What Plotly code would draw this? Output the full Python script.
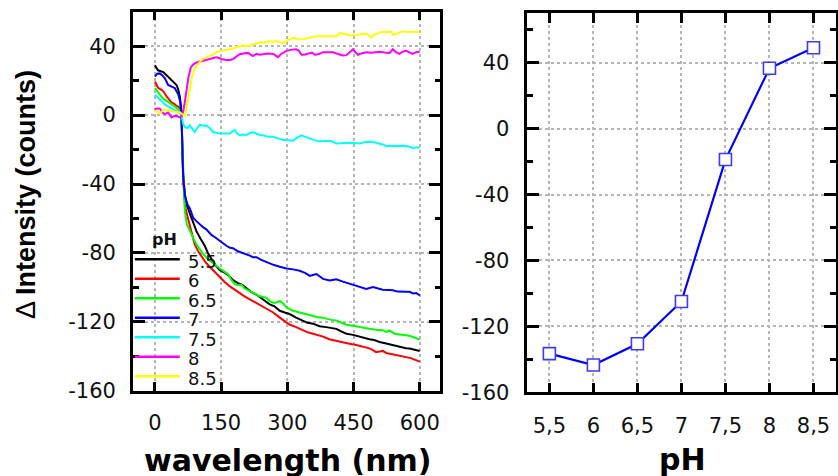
import plotly.graph_objects as go

# ---------------- data ----------------
ph_labels = ["5.5", "6", "6.5", "7", "7.5", "8", "8.5"]
colors = ["#000000", "#ff0000", "#00ff00", "#0000ff", "#00ffff", "#ff00ff", "#ffff00"]

x_55 = [0, 7, 19, 34, 49, 53, 57, 60, 64, 68, 72, 79, 87, 94, 104, 113, 120, 128, 137, 147, 156, 166, 176, 188, 198, 207, 218, 230, 241, 252, 260, 271, 283, 294, 305, 320, 335, 346, 358, 373, 388, 400, 411, 422, 434, 449, 464, 475, 486, 497, 509, 524, 539, 550, 561, 569, 577, 588, 600]
y_55 = [28.9, 26, 25, 21.3, 17.5, 14.7, 10, 2, -35, -46, -52, -57, -63, -67.3, -72, -75.8, -80, -83.3, -87, -90, -91, -92.8, -95.5, -97.5, -98.5, -100.3, -102.5, -104.1, -106, -107.9, -109.8, -111, -113.5, -114.5, -115.4, -117.5, -119.2, -120.5, -121, -122.5, -123, -123.5, -124, -125.5, -126.8, -127.5, -128.7, -129.5, -130, -130.5, -131.6, -132.5, -133.5, -134.3, -135, -135.2, -135.4, -136.2, -136.9]

x_6 = [0, 4, 7.5, 15, 20, 26, 32, 38, 44, 49, 56, 60, 64, 68, 72, 79, 85, 90, 98, 106, 115, 124, 135, 147, 158, 170, 181, 192, 203, 215, 226, 237, 252, 268, 283, 298, 305, 320, 335, 346, 358, 370, 381, 395, 411, 425, 441, 456, 471, 486, 495, 501, 509, 516, 524, 539, 550, 561, 569, 580, 590, 600]
y_6 = [19.5, 17, 15.7, 14.7, 13.5, 11, 9, 7.2, 6.5, 5.3, 4.4, 1, -38, -52.2, -57, -63.5, -70, -74.9, -79, -82.4, -85.5, -88, -91, -93.7, -96.8, -99.4, -101.5, -103.1, -105.2, -106.9, -108.5, -109.7, -112, -114.5, -117.5, -120.1, -121.5, -123, -125, -126, -126.8, -127.5, -128.5, -130, -131, -132, -132.6, -133.4, -134.3, -135.3, -136.5, -137.5, -137.2, -136.8, -138, -138.8, -139.5, -140.4, -140.4, -141, -142, -143]

x_65 = [0, 6, 11, 17, 22.6, 30, 38, 45, 53, 57, 60, 64, 66, 68, 72, 79, 87, 94, 101, 109, 118, 128, 137, 147, 156, 166, 173, 181, 188, 196, 203, 215, 226, 237, 245, 252, 260, 268, 275, 283, 290, 298, 313, 328, 343, 356, 369, 380, 388, 400, 411, 422, 434, 449, 464, 475, 486, 501, 516, 524, 531, 543, 554, 561, 570, 577, 588, 600]
y_65 = [15.7, 13.5, 11.9, 10, 9, 7.5, 6.2, 5, 3.4, 2, 0.5, -30, -46, -56, -63, -67.3, -71.5, -74.9, -77.5, -80.5, -83, -85.2, -87, -89, -90.5, -92.5, -95.5, -98, -98.6, -98.4, -100.5, -102.2, -103.5, -105, -105.5, -105.9, -107.9, -108.8, -108.8, -107.8, -109.2, -111.5, -113.5, -114.5, -115.4, -116, -117.3, -117.5, -118.2, -118.8, -119.2, -120.5, -121.6, -122.2, -123, -123.5, -124, -124.5, -124.8, -125.8, -124.9, -126.8, -127.2, -127.7, -127.6, -128, -129, -130.3]

x_7 = [0, 5, 11, 17, 22.6, 30, 38, 45, 53, 57, 60, 64, 68, 74, 79, 87, 94, 102, 109, 117, 128, 137, 147, 154, 162, 170, 177, 188, 199, 207, 215, 222, 230, 241, 252, 260, 270, 283, 298, 313, 328, 340, 351, 358, 366, 373, 381, 396, 404, 411, 426, 441, 456, 471, 479, 494, 505, 516, 531, 539, 550, 561, 569, 577, 585, 592, 600]
y_7 = [22.3, 24, 24.2, 23, 21.3, 17.5, 16.5, 15.7, 11.9, 8, 2, -35, -47, -52, -54, -59.7, -61.5, -63.5, -65, -66.4, -69.5, -71, -73, -74.5, -75.8, -77, -77.2, -79, -80, -80.5, -81.5, -82.4, -82.4, -84, -85.2, -86.2, -87, -88, -89, -89.5, -90.3, -91.5, -93.3, -92.8, -92.2, -93.5, -95, -96, -95.5, -95.2, -96.6, -97.8, -99.4, -100.2, -100.8, -99.7, -100.5, -101.3, -101.4, -101.6, -102.4, -102.7, -102.5, -102.5, -103.5, -103.2, -104.6]

x_75 = [0, 5, 11, 17, 22.6, 28, 34, 41, 49, 55, 60, 64, 68, 74, 79, 84, 90, 96, 102, 109, 117, 124, 132, 143, 155, 162, 170, 175, 181, 186, 192, 200, 207, 215, 222, 230, 237, 245, 256, 268, 279, 290, 300, 313, 320, 332, 340, 350, 362, 373, 385, 396, 404, 411, 422, 434, 449, 464, 475, 486, 497, 509, 516, 524, 539, 554, 565, 577, 584, 592, 600]
y_75 = [11.9, 10.5, 9, 7.5, 6.2, 5.2, 4.4, 3.5, 2.5, 1.5, 0, -5, -7, -7.5, -6, -8, -9.8, -7.5, -5.6, -6.2, -6, -7.5, -9.8, -10.5, -10.7, -10.7, -10.7, -9.5, -8.5, -10.5, -11.7, -11.3, -11.5, -10.5, -9.8, -10.8, -11.5, -11.7, -12.5, -12.6, -13.5, -14.5, -14.5, -14.9, -13.5, -11.7, -12.5, -13.6, -14.5, -15.1, -15, -14.9, -15.5, -16.4, -16.3, -16, -16.2, -16.4, -15.8, -15.5, -15.8, -16.4, -17, -17.9, -17.8, -17.9, -17.8, -18.3, -19.3, -18.6, -18.9]

x_8 = [0, 5, 11, 17, 22.6, 27, 30, 34, 38, 44, 49, 53, 57, 61, 64, 68, 72, 76, 81, 87, 94, 101, 109, 116, 124, 132, 139, 147, 155, 162, 170, 177, 185, 192, 200, 211, 222, 230, 237, 245, 256, 268, 279, 286, 298, 310, 320, 326, 332, 340, 350, 356, 362, 372, 381, 392, 404, 415, 426, 434, 441, 449, 454, 460, 468, 479, 490, 500, 509, 520, 532, 539, 546, 554, 561, 569, 577, 584, 592, 600]
y_8 = [3.4, 3.8, 3.8, 1.5, 0.6, 1, 1.5, 0, -1.3, -0.5, -0.4, -1, -1.3, 0, 2, 8, 15, 22, 27.5, 29.5, 30.5, 31, 31.5, 31.7, 32.5, 32.8, 33.5, 33, 32.2, 32, 32, 32.5, 34, 35.3, 35.8, 36.1, 34.3, 35.5, 35, 35.5, 35.8, 35.5, 33.6, 35.5, 37.3, 38, 38.2, 37.5, 35, 35.2, 36.1, 36.3, 35, 35.5, 36.5, 36.3, 36.5, 35.5, 34.6, 34.8, 36.5, 38.2, 36.5, 35, 35.8, 36.5, 36.2, 36.5, 36.8, 36.3, 36.1, 38.2, 36.5, 35.5, 36.8, 37.3, 36.5, 35.5, 36.5, 36.8]

x_85 = [0, 6, 11, 15, 19, 25, 30, 36, 42, 49, 57, 62, 68, 72, 76, 79, 84, 90, 97, 104, 109, 117, 124, 132, 139, 147, 155, 162, 170, 177, 185, 192, 200, 207, 215, 222, 230, 238, 245, 252, 260, 268, 275, 282, 290, 298, 305, 313, 320, 328, 335, 343, 350, 358, 366, 373, 381, 389, 396, 404, 411, 419, 426, 434, 441, 448, 456, 464, 471, 478, 484, 490, 496, 503, 509, 516, 524, 531, 535, 539, 546, 554, 561, 569, 577, 584, 592, 600]
y_85 = [2.5, 2, 1, 2, 3, 3, 2.8, 2.7, 2.5, 2.2, 1.5, 0.5, -0.4, 5, 11, 15.7, 22, 27, 29.5, 31.5, 32.6, 33.5, 34.5, 35.2, 36.5, 37.3, 37.5, 38, 38.2, 38.6, 39.5, 39.8, 40.5, 39.8, 40.3, 41, 41.5, 42.4, 42, 42.5, 42.8, 42.6, 43, 42.5, 41.7, 43, 43.8, 44.9, 44.4, 43.9, 44, 44.2, 44.8, 45.3, 45.8, 45.7, 45.8, 45.8, 45.9, 45.8, 45.8, 47.7, 47.2, 46.7, 46.3, 46.2, 46.6, 47, 47.3, 47.3, 46.5, 45, 46.5, 47.5, 48, 48.2, 48.1, 48.2, 48.6, 46.6, 47, 47.8, 48.6, 48.4, 48.4, 48.3, 48.3, 48.2]

series_x = [x_55, x_6, x_65, x_7, x_75, x_8, x_85]
series_y = [y_55, y_6, y_65, y_7, y_75, y_8, y_85]

ph_values = [5.5, 6, 6.5, 7, 7.5, 8, 8.5]
delta_at_600 = [-136.5, -143.4, -130.5, -104.9, -18.8, 36.6, 49.0]

# tick labels
y_tick_vals = [-160, -120, -80, -40, 0, 40]
y_tick_text = ["-160", "-120", "-80", "-40", "0", "40"]
wl_tick_vals = [0, 150, 300, 450, 600]
wl_tick_text = ["0", "150", "300", "450", "600"]
ph_tick_text = ["5,5", "6", "6,5", "7", "7,5", "8", "8,5"]

# ---------------- figure ----------------
W, H = 838, 476
TICK_FONT = dict(family="DejaVu Sans", size=21, color="#111111")
GRID = "#b5b5b5"

fig = go.Figure()

for name, xs, ys, c in zip(ph_labels, series_x, series_y, colors):
    fig.add_trace(go.Scatter(x=xs, y=ys, mode="lines", name=name,
                             line=dict(color=c, width=2),
                             xaxis="x", yaxis="y", showlegend=False))

fig.add_trace(go.Scatter(x=ph_values, y=delta_at_600, mode="lines+markers",
                         showlegend=False,
                         line=dict(color="#0000ff", width=2.2),
                         marker=dict(symbol="square", size=12, color="white",
                                     line=dict(color="#3a3aff", width=1.6)),
                         xaxis="x2", yaxis="y2"))

common_axis = dict(showline=True, linecolor="black", linewidth=2.5, mirror="allticks",
                   ticks="inside", tickcolor="black", tickwidth=2.5,
                   showgrid=True, gridcolor=GRID, gridwidth=1.5, griddash="dot",
                   zeroline=False, tickfont=TICK_FONT, tickmode="array")

minor_y = dict(tickmode="linear", tick0=0, dtick=20, ticks="inside", ticklen=6,
               tickwidth=2.5, tickcolor="black", showgrid=False)

# hand-made legend (line samples + labels) inside the left panel
shapes = []
annotations = []
leg_x0, leg_x1, leg_text_x = 135, 180, 186
leg_y0, leg_dy = 266, 20
for i, (name, c) in enumerate(zip(ph_labels, colors)):
    yy = 1 - (leg_y0 + i * leg_dy) / H
    shapes.append(dict(type="line", xref="paper", yref="paper",
                       x0=leg_x0 / W, x1=leg_x1 / W, y0=yy, y1=yy,
                       line=dict(color=c, width=2.5)))
    annotations.append(dict(text=name, xref="paper", yref="paper",
                            x=leg_text_x / W, y=1 - (leg_y0 + 2 + i * leg_dy) / H,
                            xanchor="left", yanchor="middle", showarrow=False,
                            font=dict(family="DejaVu Sans", size=18, color="#111111")))
annotations.append(dict(text="<b>pH</b>", xref="paper", yref="paper",
                        x=165 / W, y=1 - 246 / H, xanchor="center", yanchor="middle",
                        showarrow=False,
                        font=dict(family="DejaVu Sans", size=16, color="#111111")))

annotations += [
    dict(text="<b>wavelength (nm)</b>", xref="paper", yref="paper",
         x=288 / W, y=1 - 472 / H, xanchor="center", yanchor="middle",
         showarrow=False,
         font=dict(family="DejaVu Sans", size=30, color="black")),
    dict(text="<b>pH</b>", xref="paper", yref="paper",
         x=683 / W, y=1 - 471 / H, xanchor="center", yanchor="middle",
         showarrow=False,
         font=dict(family="DejaVu Sans", size=30, color="black")),
    dict(text="Δ <b>Intensity (counts)</b>", xref="paper", yref="paper",
         x=26 / W, y=1 - 199 / H, xanchor="center", yanchor="middle",
         textangle=-90, showarrow=False,
         font=dict(family="Liberation Sans, Arial, sans-serif",
                   size=27, color="black")),
]

fig.update_layout(
    width=W, height=H,
    margin=dict(l=0, r=0, t=0, b=0),
    paper_bgcolor="white", plot_bgcolor="white",
    showlegend=False,
    xaxis=dict(domain=[133 / W, 441 / W], range=[-50, 647],
               tickvals=wl_tick_vals, ticktext=wl_tick_text,
               ticklen=9, ticklabelstandoff=11, anchor="y", **common_axis),
    yaxis=dict(domain=[1 - 401 / H, 1 - 12 / H], range=[-160, 60],
               tickvals=y_tick_vals, ticktext=y_tick_text,
               ticklen=12, ticklabelstandoff=10, anchor="x",
               minor=minor_y, **common_axis),
    xaxis2=dict(domain=[528 / W, 836.5 / W], range=[5.25, 8.75],
                tickvals=ph_values, ticktext=ph_tick_text,
                ticklen=10, ticklabelstandoff=13, anchor="y2", **common_axis),
    yaxis2=dict(domain=[1 - 402.5 / H, 1 - 13.5 / H], range=[-160, 70],
                tickvals=y_tick_vals, ticktext=y_tick_text,
                ticklen=12, ticklabelstandoff=11, anchor="x2",
                minor=minor_y, **common_axis),
    shapes=shapes,
    annotations=annotations,
)

fig.write_html("out.html")
